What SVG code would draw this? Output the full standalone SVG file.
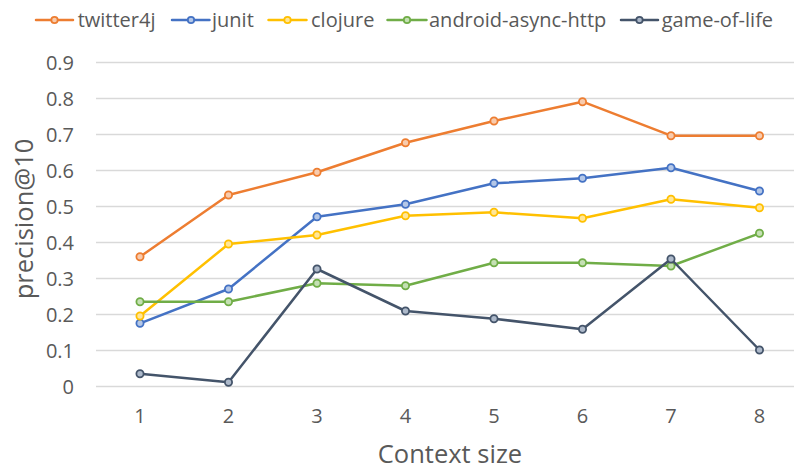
<svg xmlns="http://www.w3.org/2000/svg" width="794" height="469" viewBox="0 0 794 469">
<style>
text{font-family:"Open Sans","Liberation Sans",sans-serif;fill:#595959}
.tick{font-size:20px}
.ytick{font-size:20px;text-anchor:end}
.xtick{font-size:20px;text-anchor:middle}
.title{font-size:25.5px;text-anchor:middle}
.leg{font-size:20px}
.grid line{stroke:#D9D9D9;stroke-width:1.3}
.s{fill:none;stroke-width:2.5;stroke-linejoin:round;stroke-linecap:round}
.m{stroke-width:1.8}
.o .s,.o .m{stroke:#ED7D31}.o .m{fill:#F8CBAD}
.b .s,.b .m{stroke:#4472C4}.b .m{fill:#B4C7E7}
.y .s,.y .m{stroke:#FFC000}.y .m{fill:#FFE699}
.g .s,.g .m{stroke:#70AD47}.g .m{fill:#C5E0B4}
.d .s,.d .m{stroke:#44546A}.d .m{fill:#ADB9CA}
</style>
<rect width="794" height="469" fill="#fff"/>
<g class="grid">
<line x1="96" y1="386.5" x2="794" y2="386.5"/>
<line x1="96" y1="350.5" x2="794" y2="350.5"/>
<line x1="96" y1="314.5" x2="794" y2="314.5"/>
<line x1="96" y1="278.5" x2="794" y2="278.5"/>
<line x1="96" y1="242.5" x2="794" y2="242.5"/>
<line x1="96" y1="206.5" x2="794" y2="206.5"/>
<line x1="96" y1="170.5" x2="794" y2="170.5"/>
<line x1="96" y1="134.5" x2="794" y2="134.5"/>
<line x1="96" y1="98.5" x2="794" y2="98.5"/>
<line x1="96" y1="62.5" x2="794" y2="62.5"/>
</g>
<g id="y-axis">
<text class="ytick" x="74" y="393.5">0</text>
<text class="ytick" x="74" y="357.5">0.1</text>
<text class="ytick" x="74" y="321.5">0.2</text>
<text class="ytick" x="74" y="285.5">0.3</text>
<text class="ytick" x="74" y="249.5">0.4</text>
<text class="ytick" x="74" y="213.5">0.5</text>
<text class="ytick" x="74" y="177.5">0.6</text>
<text class="ytick" x="74" y="141.5">0.7</text>
<text class="ytick" x="74" y="105.5">0.8</text>
<text class="ytick" x="74" y="69.5">0.9</text>
<text class="title" transform="translate(32.5 219) rotate(-90)">precision@10</text>
</g>
<g id="x-axis">
<text class="xtick" x="140" y="422.7">1</text>
<text class="xtick" x="228.5" y="422.7">2</text>
<text class="xtick" x="317" y="422.7">3</text>
<text class="xtick" x="405.5" y="422.7">4</text>
<text class="xtick" x="494" y="422.7">5</text>
<text class="xtick" x="582.5" y="422.7">6</text>
<text class="xtick" x="671" y="422.7">7</text>
<text class="xtick" x="759.5" y="422.7">8</text>
<text class="title" x="450" y="463.3">Context size</text>
</g>
<g id="connectors">
<g id="twitter4j" class="o">
<polyline class="s" points="140,256.7 228.5,195 317,172.3 405.5,142.7 494,121 582.5,101.7 671,135.7 759.5,135.7"/>
<circle class="m" cx="140" cy="256.7" r="3.6"/><circle class="m" cx="228.5" cy="195" r="3.6"/><circle class="m" cx="317" cy="172.3" r="3.6"/><circle class="m" cx="405.5" cy="142.7" r="3.6"/><circle class="m" cx="494" cy="121" r="3.6"/><circle class="m" cx="582.5" cy="101.7" r="3.6"/><circle class="m" cx="671" cy="135.7" r="3.6"/><circle class="m" cx="759.5" cy="135.7" r="3.6"/>
</g>
<g id="junit" class="b">
<polyline class="s" points="140,323.3 228.5,289 317,216.7 405.5,204.3 494,183.3 582.5,178.3 671,167.7 759.5,191"/>
<circle class="m" cx="140" cy="323.3" r="3.6"/><circle class="m" cx="228.5" cy="289" r="3.6"/><circle class="m" cx="317" cy="216.7" r="3.6"/><circle class="m" cx="405.5" cy="204.3" r="3.6"/><circle class="m" cx="494" cy="183.3" r="3.6"/><circle class="m" cx="582.5" cy="178.3" r="3.6"/><circle class="m" cx="671" cy="167.7" r="3.6"/><circle class="m" cx="759.5" cy="191" r="3.6"/>
</g>
<g id="clojure" class="y">
<polyline class="s" points="140,316 228.5,244 317,235 405.5,215.7 494,212.3 582.5,218.3 671,199.3 759.5,207.7"/>
<circle class="m" cx="140" cy="316" r="3.6"/><circle class="m" cx="228.5" cy="244" r="3.6"/><circle class="m" cx="317" cy="235" r="3.6"/><circle class="m" cx="405.5" cy="215.7" r="3.6"/><circle class="m" cx="494" cy="212.3" r="3.6"/><circle class="m" cx="582.5" cy="218.3" r="3.6"/><circle class="m" cx="671" cy="199.3" r="3.6"/><circle class="m" cx="759.5" cy="207.7" r="3.6"/>
</g>
<g id="android-async-http" class="g">
<polyline class="s" points="140,301.7 228.5,301.7 317,283.3 405.5,285.7 494,262.7 582.5,262.7 671,266 759.5,233.3"/>
<circle class="m" cx="140" cy="301.7" r="3.6"/><circle class="m" cx="228.5" cy="301.7" r="3.6"/><circle class="m" cx="317" cy="283.3" r="3.6"/><circle class="m" cx="405.5" cy="285.7" r="3.6"/><circle class="m" cx="494" cy="262.7" r="3.6"/><circle class="m" cx="582.5" cy="262.7" r="3.6"/><circle class="m" cx="671" cy="266" r="3.6"/><circle class="m" cx="759.5" cy="233.3" r="3.6"/>
</g>
<g id="game-of-life" class="d">
<polyline class="s" points="140,373.7 228.5,382.3 317,269 405.5,311 494,318.7 582.5,329.3 671,259 759.5,350"/>
<circle class="m" cx="140" cy="373.7" r="3.6"/><circle class="m" cx="228.5" cy="382.3" r="3.6"/><circle class="m" cx="317" cy="269" r="3.6"/><circle class="m" cx="405.5" cy="311" r="3.6"/><circle class="m" cx="494" cy="318.7" r="3.6"/><circle class="m" cx="582.5" cy="329.3" r="3.6"/><circle class="m" cx="671" cy="259" r="3.6"/><circle class="m" cx="759.5" cy="350" r="3.6"/>
</g>
</g>
<g id="legend">
<g id="legend-twitter4j" class="o"><line class="s" x1="36" y1="20" x2="73" y2="20"/><circle class="m" cx="54.5" cy="20" r="3.2"/><text class="leg" x="77.7" y="27">twitter4j</text></g>
<g id="legend-junit" class="b"><line class="s" x1="172" y1="20" x2="209.5" y2="20"/><circle class="m" cx="191" cy="20" r="3.2"/><text class="leg" x="212" y="27">junit</text></g>
<g id="legend-clojure" class="y"><line class="s" x1="268.5" y1="20" x2="306.5" y2="20"/><circle class="m" cx="287.5" cy="20" r="3.2"/><text class="leg" x="311" y="27">clojure</text></g>
<g id="legend-android-async-http" class="g"><line class="s" x1="387.5" y1="20" x2="426.5" y2="20"/><circle class="m" cx="407" cy="20" r="3.2"/><text class="leg" x="429" y="27">android-async-http</text></g>
<g id="legend-game-of-life" class="d"><line class="s" x1="621" y1="20" x2="658" y2="20"/><circle class="m" cx="639.5" cy="20" r="3.2"/><text class="leg" x="661.7" y="27">game-of-life</text></g>
</g>
</svg>
